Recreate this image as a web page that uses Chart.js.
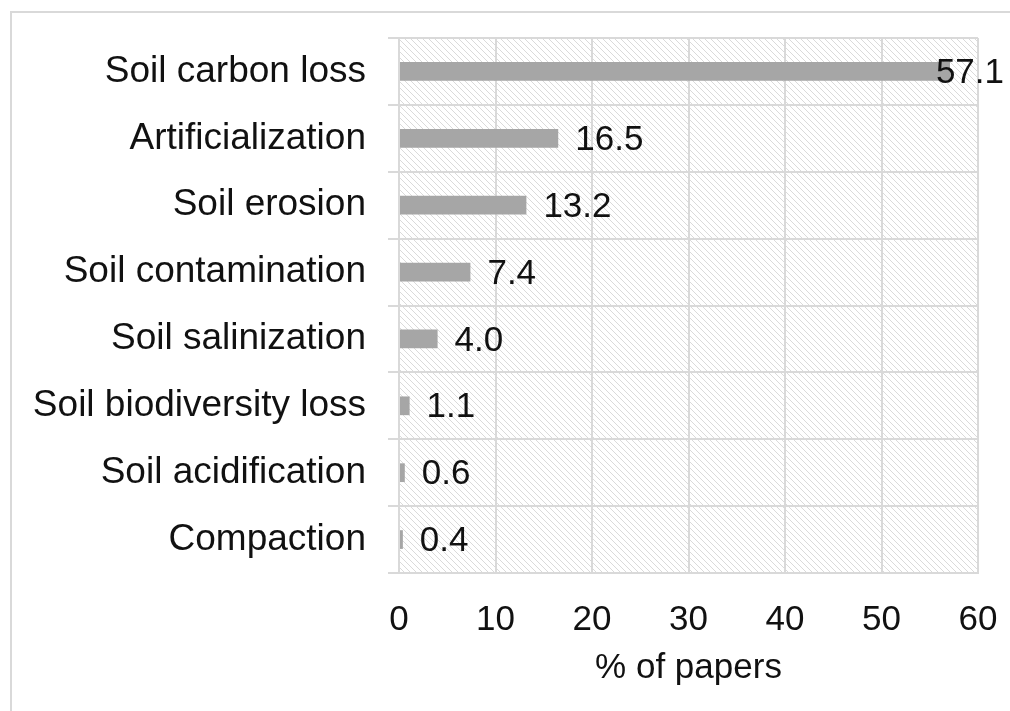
<!DOCTYPE html>
<html>
<head>
<meta charset="utf-8">
<script src="https://cdn.jsdelivr.net/npm/chart.js@4/dist/chart.umd.min.js"></script>
<style>
  html, body { margin: 0; padding: 0; background: #fff; }
  #wrap { width: 1010px; height: 711px; position: relative; }
</style>
</head>
<body>
<div id="wrap"><canvas id="chart"></canvas></div>
<script>
// categories and values
var categories = ["Soil carbon loss", "Artificialization", "Soil erosion", "Soil contamination",
                  "Soil salinization", "Soil biodiversity loss", "Soil acidification", "Compaction"];
var percentPapers = [57.1, 16.5, 13.2, 7.4, 4.0, 1.1, 0.6, 0.4];
var xTicks = [0, 10, 20, 30, 40, 50, 60];

var FONT = "'Liberation Sans', Arial, sans-serif";
var gridColor = "#d9d9d9";

// diagonal hatch for the plot background
function hatchPattern(ctx) {
    var c = document.createElement("canvas");
    c.width = 6; c.height = 6;
    var p = c.getContext("2d");
    p.fillStyle = "#fff";
    p.fillRect(0, 0, 6, 6);
    p.strokeStyle = "#dadada";
    p.lineWidth = 1;
    p.beginPath();
    p.moveTo(-1, -1); p.lineTo(7, 7);
    p.moveTo(-1, 5); p.lineTo(1, 7);
    p.moveTo(5, -1); p.lineTo(7, 1);
    p.stroke();
    return ctx.createPattern(c, "repeat");
}

var backdrop = {
    id: "backdrop",
    beforeDraw: function (chart) {
        var ctx = chart.ctx, a = chart.chartArea;
        ctx.save();
        ctx.strokeStyle = gridColor;
        ctx.lineWidth = 2;
        ctx.strokeRect(11, 12, chart.width + 20, chart.height + 20);
        ctx.fillStyle = hatchPattern(ctx);
        ctx.fillRect(a.left, a.top, a.right - a.left, a.bottom - a.top);
        ctx.restore();
    }
};

var valueLabels = {
    id: "valueLabels",
    afterDatasetsDraw: function (chart) {
        var ctx = chart.ctx;
        var meta = chart.getDatasetMeta(0);
        ctx.save();
        ctx.font = "35px " + FONT;
        ctx.fillStyle = "#111";
        ctx.textBaseline = "middle";
        meta.data.forEach(function (bar, i) {
            var txt = percentPapers[i].toFixed(1);
            var w = ctx.measureText(txt).width;
            var x = bar.x + 17;
            if (x + w > chart.width - 6) x = chart.width - 6 - w;
            ctx.fillText(txt, x, bar.y + 2);
        });
        ctx.restore();
    }
};

new Chart(document.querySelector("#chart"), {
    type: "bar",
    data: {
        labels: categories,
        datasets: [{
            data: percentPapers,
            backgroundColor: "#a6a6a6",
            barPercentage: 0.28,
            categoryPercentage: 1.0
        }]
    },
    plugins: [backdrop, valueLabels],
    options: {
        indexAxis: "y",
        responsive: true,
        maintainAspectRatio: false,
        animation: false,
        layout: { padding: { top: 38, right: 32, bottom: 4, left: 0 } },
        plugins: {
            legend: { display: false },
            tooltip: { enabled: false }
        },
        scales: {
            x: {
                min: 0,
                max: 60,
                afterBuildTicks: function (scale) {
                    scale.ticks = xTicks.map(function (v) { return { value: v }; });
                },
                grid: { color: gridColor, lineWidth: 2, drawTicks: false },
                border: { color: gridColor, width: 2 },
                ticks: { color: "#111", font: { family: FONT, size: 35 }, padding: 26, maxRotation: 0 },
                title: {
                    display: true,
                    text: "% of papers",
                    color: "#111",
                    font: { family: FONT, size: 35 },
                    padding: { top: 0, bottom: 18 }
                },
                afterFit: function (scale) {
                    scale.height = 134;
                    scale.paddingLeft = 0;
                    scale.paddingRight = 0;
                }
            },
            y: {
                grid: { color: gridColor, lineWidth: 2, tickLength: 11, offset: true },
                border: { color: gridColor, width: 2 },
                ticks: { color: "#111", font: { family: FONT, size: 37, lineHeight: 1.3 }, padding: 22 },
                afterFit: function (scale) {
                    scale.width = 399;
                    scale.paddingTop = 0;
                    scale.paddingBottom = 0;
                }
            }
        }
    }
});
</script>
</body>
</html>
